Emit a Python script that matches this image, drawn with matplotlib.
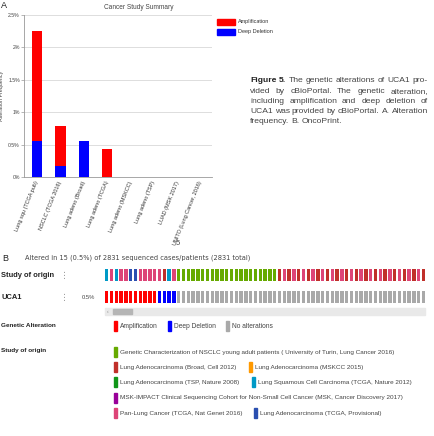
import matplotlib
matplotlib.use("Agg")
import matplotlib.pyplot as plt
from matplotlib.patches import Rectangle

W, H = 434, 436

# ---------------- data: A. alteration frequency ----------------
studies = ["Lung squ (TCGA pub)", "NSCLC (TCGA 2016)", "Lung adeno (Broad)",
           "Lung adeno (TCGA)", "Lung adeno (MSKCC)", "Lung adeno (TSP)",
           "LUAD (MSK 2017)", "UNITO (Lung Cancer, 2016)"]
deep_deletion = [0.56, 0.17, 0.55, 0.0, 0.0, 0.0, 0.0, 0.0]
amplification = [1.69, 0.62, 0.0, 0.43, 0.0, 0.0, 0.0, 0.0]
yticks = [0, 0.5, 1, 1.5, 2, 2.5]
ytick_labels = ["0%", "0.5%", "1%", "1.5%", "2%", "2.5%"]

# ---------------- data: B. oncoprint ----------------
# study of origin per sample column
origin_first = ["sq", "pan", "sq", "pan", "pan", "prov", "prov", "pan", "pan",
                "pan", "pan", "pan", "br", "sq", "pan"]
n_turin = 21
origin_rest = ["br", "pan"] * 15 + ["br"]
origin = origin_first + ["turin"] * n_turin + origin_rest
# UCA1 alteration per sample column
alteration = ["amp"] * 11 + ["del"] * 4 + ["none"] * (len(origin) - 15)

study_colors = {"turin": "#66aa00", "br": "#c0302a", "mskcc": "#ff9900",
                "tsp": "#109618", "sq": "#0099c6", "msk": "#990099",
                "pan": "#dd4477", "prov": "#2a4fb0"}
alt_colors = {"amp": "#ff0000", "del": "#0000ff", "none": "#a9a9a9"}

legend_rows = [
    [("turin", "Genetic Characterization of NSCLC young adult patients ( University of Turin, Lung Cancer 2016)")],
    [("br", "Lung Adenocarcinoma (Broad, Cell 2012)"), ("mskcc", "Lung Adenocarcinoma (MSKCC 2015)")],
    [("tsp", "Lung Adenocarcinoma (TSP, Nature 2008)"), ("sq", "Lung Squamous Cell Carcinoma (TCGA, Nature 2012)")],
    [("msk", "MSK-IMPACT Clinical Sequencing Cohort for Non-Small Cell Cancer (MSK, Cancer Discovery 2017)")],
    [("pan", "Pan-Lung Cancer (TCGA, Nat Genet 2016)"), ("prov", "Lung Adenocarcinoma (TCGA, Provisional)")],
]

caption = ["Figure 5. The genetic alterations of UCA1 pro-",
           "vided by cBioPortal. The genetic alteration,",
           "including amplification and deep deletion of",
           "UCA1 was provided by cBioPortal. A. Alteration",
           "frequency. B. OncoPrint."]

plt.rcParams['font.family'] = ['Liberation Sans', 'DejaVu Sans']

fig = plt.figure(figsize=(W / 100, H / 100), dpi=100)
fig.patch.set_facecolor("white")

# ---------------------------------------------
# A: bar chart
# ---------------------------------------------
ax = fig.add_axes([24 / W, 1 - 177 / H, 188 / W, 162 / H])
xs = list(range(len(studies)))
ax.bar(xs, deep_deletion, width=0.44, color="#0000ff", zorder=3)
ax.bar(xs, amplification, width=0.44, bottom=deep_deletion, color="#ff0000", zorder=3)
ax.set_xlim(-0.56, 7.48)
ax.set_ylim(0, 2.5)
ax.set_yticks(yticks)
ax.set_yticklabels(ytick_labels, fontsize=3.7, color="#444444")
ax.yaxis.grid(True, color="#d8d8d8", linewidth=0.6, zorder=0)
ax.set_xticks(xs)
ax.set_xticklabels(studies, rotation=68, ha="right", va="center",
                   rotation_mode="anchor", fontsize=4.0, color="#333333")
ax.tick_params(axis="x", length=0, pad=3)
ax.tick_params(axis="y", length=2, width=0.5, color="#999999", pad=1)
for s in ["top", "right"]:
    ax.spines[s].set_visible(False)
ax.spines["left"].set_color("#999999")
ax.spines["bottom"].set_color("#999999")
ax.spines["left"].set_linewidth(0.6)
ax.spines["bottom"].set_linewidth(0.6)
ax.set_ylabel("Alteration Frequency", fontsize=3.9, color="#444444", labelpad=3)
ax.set_title("Cancer Study Summary", fontsize=4.7, color="#444444", pad=4, x=0.61)

# ---------------------------------------------
# overlay in pixel coordinates
# ---------------------------------------------
ov = fig.add_axes([0, 0, 1, 1], facecolor="none")
ov.set_xlim(0, W)
ov.set_ylim(H, 0)
ov.axis("off")

ov.text(1, 6, "A", fontsize=6.5, va="center", ha="left", color="#222222")

# legend A
ov.add_patch(Rectangle((217, 19), 18, 6, color="#ff0000"))
ov.add_patch(Rectangle((217, 29), 18, 6, color="#0000ff"))
ov.text(238, 22, "Amplification", fontsize=4.0, va="center", color="#333333")
ov.text(238, 32, "Deep Deletion", fontsize=4.0, va="center", color="#333333")

# caption, justified
fig.canvas.draw()
renderer = fig.canvas.get_renderer()
inv = ov.transData.inverted()
cap_size = 6.1


def text_w(s, weight):
    t = ov.text(0, 0, s, fontsize=cap_size, fontweight=weight)
    bb = t.get_window_extent(renderer)
    t.remove()
    (x0, _), (x1, _) = inv.transform([(bb.x0, bb.y0), (bb.x1, bb.y1)])
    return x1 - x0


cap_left, cap_right = 250, 428
for li, line in enumerate(caption):
    words = line.split(" ")
    weights = ["bold" if (li == 0 and wi < 2) else "normal" for wi in range(len(words))]
    widths = [text_w(w, wt) for w, wt in zip(words, weights)]
    y = 81 + li * 10.1
    if li < len(caption) - 1:
        gap = (cap_right - cap_left - sum(widths)) / (len(words) - 1)
    else:
        gap = text_w("a a", "normal") - 2 * text_w("a", "normal")
    x = cap_left
    for w, wt, wd in zip(words, weights, widths):
        ov.text(x, y, w, fontsize=cap_size, fontweight=wt, va="center", ha="left",
                color="#222222" if wt == "bold" else "#444444")
        x += wd + gap

ov.text(178, 243, "5", fontsize=5.5, va="center", ha="center", color="#444444")

# ---------------------------------------------
# B: oncoprint
# ---------------------------------------------
ov.text(2, 258, "B", fontsize=6.5, va="center", ha="left", color="#222222")
ov.text(25, 258, "Altered in 15 (0.5%) of 2831 sequenced cases/patients (2831 total)",
        fontsize=4.8, family="DejaVu Sans", va="center", color="#444444")

ov.text(1, 275, "Study of origin", fontsize=5.4, fontweight="bold", va="center", color="#222222")
ov.text(1, 297, "UCA1", fontsize=5.4, fontweight="bold", va="center", color="#222222")
for yy in (275, 297):
    ov.text(65, yy, "\u22ee", fontsize=6.5, family="DejaVu Sans", va="center", ha="center", color="#999999")
ov.text(82, 297, "0.5%", fontsize=4.2, va="center", color="#444444")

x0, pitch, bw = 105, 4.8, 3.3
cols = [x0 + i * pitch + bw / 2 for i in range(len(origin))]
ov.bar(cols, [12] * len(origin), width=bw, bottom=269,
       color=[study_colors[o] for o in origin])
ov.bar(cols, [12] * len(alteration), width=bw, bottom=291,
       color=[alt_colors[a] for a in alteration])

# scrollbar
ov.add_patch(Rectangle((105, 308), 320, 7, color="#e9e9e9"))
ov.add_patch(Rectangle((113, 309), 19, 5, color="#b5b5b5"))
ov.text(108, 311.5, "\u2039", fontsize=3.5, va="center", ha="center", color="#888888")

# legends
ov.text(1, 325, "Genetic Alteration", fontsize=4.6, fontweight="bold", va="center", color="#222222")
ga = [("amp", "Amplification", 114), ("del", "Deep Deletion", 168), ("none", "No alterations", 226)]
for key, label, lx in ga:
    ov.add_patch(Rectangle((lx, 321), 3.2, 10, color=alt_colors[key]))
    ov.text(lx + 6, 326, label, fontsize=4.8, va="center", color="#444444")

ov.text(1, 350, "Study of origin", fontsize=4.6, fontweight="bold", va="center", color="#222222")
row_y = [352, 367, 382, 397.5, 413]
second_x = [None, 249, 252, None, 254]
for ry, sx, row in zip(row_y, second_x, legend_rows):
    for k, (key, label) in enumerate(row):
        lx = 114 if k == 0 else sx
        ov.add_patch(Rectangle((lx, ry - 5), 3.2, 10, color=study_colors[key]))
        ov.text(lx + 6, ry, label, fontsize=4.6, va="center", color="#444444")

fig.savefig("out.png", dpi=100, facecolor="white")
